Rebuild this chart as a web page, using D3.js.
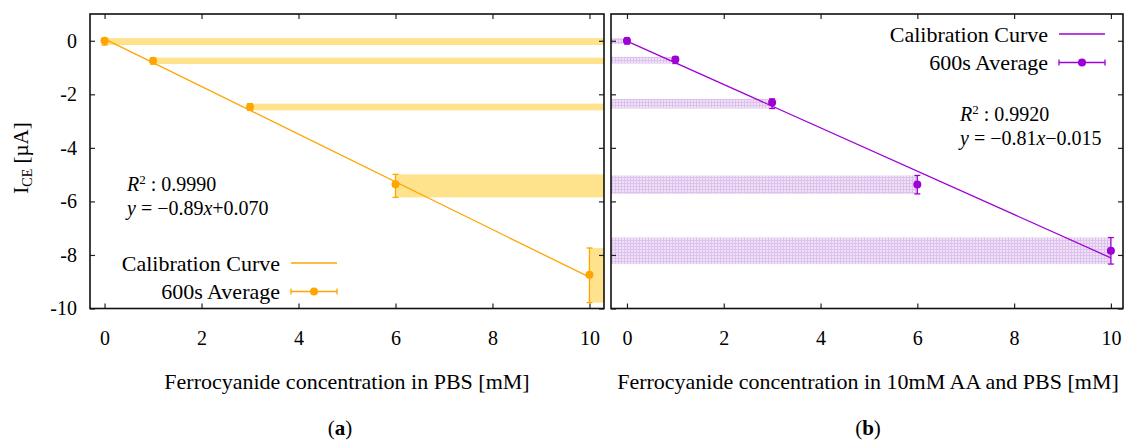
<!DOCTYPE html>
<html>
<head>
<meta charset="utf-8">
<script src="https://cdn.jsdelivr.net/npm/d3@7"></script>
<style>
  body { margin: 0; background: #fff; }
  svg text { font-family: 'Liberation Serif', 'DejaVu Serif', serif !important; fill: #000; }
</style>
</head>
<body>
<div id="chart"></div>
<script>
// concentrations [mM]
const concentrations = [0, 1, 3, 6, 10];

// panel (a): PBS
const meanA = [0, -0.75, -2.47, -5.36, -8.74];
const upperA = [0.1, -0.63, -2.35, -4.99, -7.74];
const lowerA = [-0.16, -0.87, -2.6, -5.85, -9.78];
const fitXA = [0, 10];
const fitYA = [0.07, -8.83];

// panel (b): 10mM AA and PBS
const meanB = [0, -0.7, -2.31, -5.37, -7.84];
const upperB = [0.1, -0.6, -2.17, -5.03, -7.35];
const lowerB = [-0.12, -0.85, -2.53, -5.72, -8.34];
const fitXB = [0, 10];
const fitYB = [-0.015, -8.11];

const xTicks = [0, 2, 4, 6, 8, 10];
const yTicks = [0, -2, -4, -6, -8, -10];

const orange = '#ffa500';
const violet = '#9f00d4';

const width = 1126;
const height = 441;

const svg = d3.select('#chart')
  .append('svg')
    .attr('width', width)
    .attr('height', height)
    .attr('viewBox', `0 0 ${width} ${height}`);

const defs = svg.append('defs');

// checkered pattern for panel (b) bands
const pat = defs.append('pattern')
  .attr('id', 'gridB')
  .attr('patternUnits', 'userSpaceOnUse')
  .attr('width', 3)
  .attr('height', 3);
pat.append('rect').attr('width', 3).attr('height', 3).attr('fill', '#efe2f6');
pat.append('rect').attr('width', 1).attr('height', 3).attr('fill', '#dcc2ec');
pat.append('rect').attr('width', 3).attr('height', 1).attr('fill', '#dcc2ec');

const plotTop = 14;
const plotBottom = 308.5;
const y = d3.scaleLinear().domain([-10, 1]).range([plotBottom, plotTop]);

function panel({ left, right, xDomain, mean, upper, lower, fitX, fitY, color, bandFill, bandToRight, clipId }) {
  const x = d3.scaleLinear().domain(xDomain).range([left, right]);
  const g = svg.append('g');

  defs.append('clipPath')
    .attr('id', clipId)
    .append('rect')
      .attr('x', left)
      .attr('y', plotTop)
      .attr('width', right - left)
      .attr('height', plotBottom - plotTop);

  const data = concentrations.map((c, i) => ({
    c, m: mean[i], hi: upper[i], lo: lower[i],
  }));

  // bands
  g.append('g')
    .attr('clip-path', `url(#${clipId})`)
    .selectAll('rect')
    .data(data)
    .enter()
    .append('rect')
      .attr('x', d => (bandToRight ? x(d.c) : left))
      .attr('width', d => (bandToRight ? right - x(d.c) : x(d.c) - left))
      .attr('y', d => y(d.hi))
      .attr('height', d => y(d.lo) - y(d.hi))
      .attr('fill', bandFill);

  // calibration line
  const line = d3.line().x(d => x(d[0])).y(d => y(d[1]));
  g.append('path')
    .datum(fitX.map((v, i) => [v, fitY[i]]))
    .attr('d', line)
    .attr('fill', 'none')
    .attr('stroke', color)
    .attr('stroke-width', 1.3);

  // error bars
  const eb = g.append('g').selectAll('g')
    .data(data)
    .enter()
    .append('g')
      .attr('stroke', color)
      .attr('stroke-width', 1.3);
  eb.append('line')
    .attr('x1', d => x(d.c)).attr('x2', d => x(d.c))
    .attr('y1', d => y(d.hi)).attr('y2', d => y(d.lo));
  eb.append('line')
    .attr('x1', d => x(d.c) - 3).attr('x2', d => x(d.c) + 3)
    .attr('y1', d => y(d.hi)).attr('y2', d => y(d.hi));
  eb.append('line')
    .attr('x1', d => x(d.c) - 3).attr('x2', d => x(d.c) + 3)
    .attr('y1', d => y(d.lo)).attr('y2', d => y(d.lo));

  g.append('g').selectAll('circle')
    .data(data)
    .enter()
    .append('circle')
      .attr('cx', d => x(d.c))
      .attr('cy', d => y(d.m))
      .attr('r', 4)
      .attr('fill', color);

  // axes, gnuplot style: inward ticks on all sides
  const axB = g.append('g')
    .attr('transform', `translate(0, ${plotBottom})`)
    .call(d3.axisBottom(x).tickValues(xTicks).tickSizeInner(-5).tickSizeOuter(0).tickPadding(22));
  const axT = g.append('g')
    .attr('transform', `translate(0, ${plotTop})`)
    .call(d3.axisTop(x).tickValues(xTicks).tickSizeInner(-5).tickSizeOuter(0).tickFormat(''));
  const axL = g.append('g')
    .attr('transform', `translate(${left}, 0)`)
    .call(d3.axisLeft(y).tickValues(yTicks).tickSizeInner(-5).tickSizeOuter(0).tickPadding(13));
  const axR = g.append('g')
    .attr('transform', `translate(${right}, 0)`)
    .call(d3.axisRight(y).tickValues(yTicks).tickSizeInner(-5).tickSizeOuter(0).tickFormat(''));

  [axB, axT, axL, axR].forEach(a => {
    a.select('.domain').remove();
    a.selectAll('.tick line').attr('stroke', '#222').attr('stroke-width', 1.2);
    a.selectAll('.tick text').style('font-size', '20px');
  });
  axL.selectAll('.tick text').text(d => String(d).replace('−', '-'));

  g.append('rect')
    .attr('x', left)
    .attr('y', plotTop)
    .attr('width', right - left)
    .attr('height', plotBottom - plotTop)
    .attr('fill', 'none')
    .attr('stroke', '#111')
    .attr('stroke-width', 1.6);

  return { x, g, axL };
}

const pa = panel({
  left: 90, right: 604, xDomain: [-0.3, 10.3],
  mean: meanA, upper: upperA, lower: lowerA, fitX: fitXA, fitY: fitYA,
  color: orange, bandFill: '#ffe28c', bandToRight: true, clipId: 'clipA',
});
const pb = panel({
  left: 611, right: 1123, xDomain: [-0.33, 10.25],
  mean: meanB, upper: upperB, lower: lowerB, fitX: fitXB, fitY: fitYB,
  color: violet, bandFill: 'url(#gridB)', bandToRight: false, clipId: 'clipB',
});
pb.axL.selectAll('.tick text').remove();

// legends
function legend(g, rightX, y0, color) {
  const rowH = 28.5;
  const sx0 = rightX + 11;
  const sx1 = rightX + 57;
  const labels = ['Calibration Curve', '600s Average'];
  g.selectAll(null)
    .data(labels)
    .enter()
    .append('text')
      .attr('x', rightX)
      .attr('y', (d, i) => y0 + i * rowH)
      .attr('dy', '0.35em')
      .attr('text-anchor', 'end')
      .style('font-size', '22px')
      .text(d => d);
  g.append('line')
    .attr('x1', sx0).attr('x2', sx1)
    .attr('y1', y0).attr('y2', y0)
    .attr('stroke', color).attr('stroke-width', 1.3);
  const y1 = y0 + rowH;
  const s = g.append('g').attr('stroke', color).attr('stroke-width', 1.3);
  s.append('line').attr('x1', sx0).attr('x2', sx1).attr('y1', y1).attr('y2', y1);
  s.append('line').attr('x1', sx0).attr('x2', sx0).attr('y1', y1 - 3).attr('y2', y1 + 3);
  s.append('line').attr('x1', sx1).attr('x2', sx1).attr('y1', y1 - 3).attr('y2', y1 + 3);
  g.append('circle')
    .attr('cx', (sx0 + sx1) / 2).attr('cy', y1).attr('r', 4).attr('fill', color);
}
legend(pa.g, 280, 263, orange);
legend(pb.g, 1048, 34, violet);

// fit annotations
function annotate(g, x0, y0, r2, slope, intercept) {
  const t1 = g.append('text').attr('x', x0).attr('y', y0).style('font-size', '20px');
  t1.append('tspan').style('font-style', 'italic').text('R');
  t1.append('tspan').attr('dy', -7).style('font-size', '13px').text('2');
  t1.append('tspan').attr('dy', 7).text(` : ${r2}`);
  const t2 = g.append('text').attr('x', x0).attr('y', y0 + 24).style('font-size', '20px');
  t2.append('tspan').style('font-style', 'italic').text('y');
  t2.append('tspan').text(` = ${slope}`);
  t2.append('tspan').style('font-style', 'italic').text('x');
  t2.append('tspan').text(intercept);
}
annotate(pa.g, 127, 191, '0.9990', '−0.89', '+0.070');
annotate(pb.g, 960, 121, '0.9920', '−0.81', '−0.015');

// y axis title
const yt = svg.append('text')
  .attr('transform', 'translate(28, 158) rotate(-90)')
  .attr('text-anchor', 'middle')
  .style('font-size', '21px');
yt.append('tspan').text('I');
yt.append('tspan').attr('dy', 4).style('font-size', '14px').text('CE');
yt.append('tspan').attr('dy', -4).text(' [µA]');

// x axis titles
svg.append('text')
  .attr('x', 347).attr('y', 389)
  .attr('text-anchor', 'middle')
  .style('font-size', '22px')
  .text('Ferrocyanide concentration in PBS [mM]');
svg.append('text')
  .attr('x', 868).attr('y', 389)
  .attr('text-anchor', 'middle')
  .style('font-size', '22px')
  .text('Ferrocyanide concentration in 10mM AA and PBS [mM]');

// sub captions
[['a', 340], ['b', 868]].forEach(([c, cx]) => {
  const t = svg.append('text')
    .attr('x', cx).attr('y', 435)
    .attr('text-anchor', 'middle')
    .style('font-size', '21px');
  t.append('tspan').text('(');
  t.append('tspan').style('font-weight', 'bold').text(c);
  t.append('tspan').text(')');
});
</script>
</body>
</html>
